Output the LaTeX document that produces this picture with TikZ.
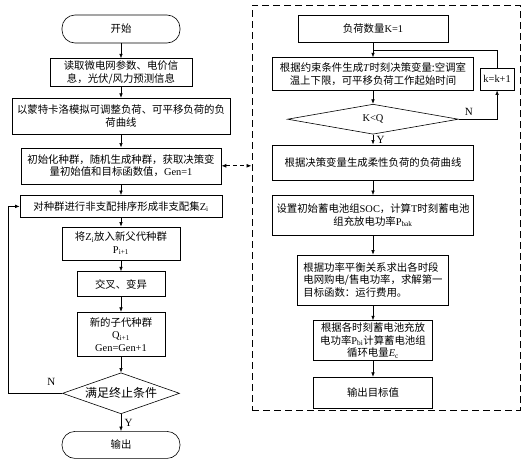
\documentclass[tikz,border=0pt]{standalone}
\usepackage{fontspec}
\setmainfont{Liberation Serif}
\newfontfamily\cjk{Noto Sans CJK SC}
\newcommand{\latn}[1]{{\rmfamily #1}}
\usetikzlibrary{shapes.geometric, arrows.meta, positioning, calc}

\begin{document}
\begin{tikzpicture}[
    x=1pt, y=1pt,
    box/.style={draw, line width=0.6pt, inner sep=2pt, font=\cjk\fontsize{10.4}{12.5}\selectfont, align=center},
    term/.style={box, rounded corners=13pt, minimum width=118pt, minimum height=28pt},
    decision/.style={box, diamond, inner sep=0pt},
    arr/.style={-{Latex[length=4.5pt, width=3.5pt]}, line width=0.6pt},
    darr/.style={{Latex[length=5pt, width=4pt]}-{Latex[length=5pt, width=4pt]}, dash pattern=on 4pt off 3pt, line width=0.9pt},
    frame/.style={draw, dash pattern=on 7pt off 4pt, line width=1pt},
    lbl/.style={font=\fontsize{11}{13}\selectfont},
]
\useasboundingbox (0,0) rectangle (526,-458);

\node[term] (start) at (121,-29) {开始};
\node[box, minimum width=142pt, minimum height=28pt, below=15pt of start] (read) {读取微电网参数、电价信\\息，光伏/风力预测信息};
\node[box, minimum width=218pt, minimum height=36pt, below=11pt of read] (mc) {以蒙特卡洛模拟可调整负荷、可平移负荷的负\\荷曲线};
\node[box, minimum width=200pt, minimum height=36pt, below=13pt of mc] (init) {初始化种群，随机生成种群，获取决策变\\量初始值和目标函数值，\latn{Gen=1}};
\node[box, minimum width=202pt, minimum height=22pt, below=11pt of init] (sort) {对种群进行非支配排序形成非支配集\latn{Z\textsubscript{i}}};
\node[box, minimum width=118pt, minimum height=33pt, below=9pt of sort] (parent) {将\latn{Z\textsubscript{i}}放入新父代种群\\\latn{P\textsubscript{i+1}}};
\node[box, minimum width=88pt, minimum height=25pt, below=11pt of parent] (cross) {交叉、变异};
\node[box, minimum width=88pt, minimum height=44pt, below=15pt of cross] (child) {新的子代种群\\\latn{Q\textsubscript{i+1}}\\\latn{Gen=Gen+1}};
\node[decision, minimum width=117pt, minimum height=41pt, shape aspect=2.85, font=\cjk\fontsize{12}{14}\selectfont, below=16pt of child] (stop) {满足终止条件};
\node[term, minimum height=27pt, below=17pt of stop] (out) {输出};
\coordinate (lp) at (8,0);

\node[frame, minimum width=268pt, minimum height=405pt] (panel) at (386,-207.5) {};
\node[box, minimum width=150pt, minimum height=27pt] (count) at (373,-28.5) {负荷数量\latn{K=1}};
\node[box, minimum width=201pt, minimum height=33pt, below=15pt of count] (gen) {根据约束条件生成\latn{\textit{T}}时刻决策变量:空调室\\温上下限，可平移负荷工作起始时间};
\node[box, minimum width=34pt, minimum height=22pt, inner sep=1pt, right=6pt of gen, yshift=-5pt] (inc) {\latn{k=k+1}};
\node[decision, minimum width=171pt, minimum height=30pt, shape aspect=5.7, below=13pt of gen] (less) {\latn{K<Q}};
\node[box, minimum width=201pt, minimum height=35pt, below=10pt of less] (curve) {根据决策变量生成柔性负荷的负荷曲线};
\node[box, minimum width=201pt, minimum height=40pt, below=15pt of curve] (soc) {设置初始蓄电池组\latn{SOC}，计算\latn{T}时刻蓄电池\\组充放电功率\latn{P\textsubscript{bak}}};
\node[box, minimum width=151pt, minimum height=50pt, align=left, below=19pt of soc] (cost) {根据功率平衡关系求出各时段\\电网购电/售电功率，求解第一\\目标函数：运行费用。};
\node[box, minimum width=119pt, minimum height=40pt, below=15pt of cost] (cycle) {根据各时刻蓄电池充放\\电功率\latn{P\textsubscript{bi}}计算蓄电池组\\循环电量\latn{\textit{E}\textsubscript{c}}};
\node[box, minimum width=119pt, minimum height=31pt, below=16pt of cycle] (result) {输出目标值};
\coordinate (jn) at ($(count.south)!0.55!(gen.north)$);

\draw[arr] (start) -- (read);
\draw[arr] (read) -- (mc);
\draw[arr] (mc) -- (init);
\draw[arr] (init) -- (sort);
\draw[arr] (sort) -- (parent);
\draw[arr] (parent) -- (cross);
\draw[arr] (cross) -- (child);
\draw[arr] (child) -- (stop);
\draw[arr] (stop) -- node[right, lbl] {Y} (out);
\draw[arr] (stop.west) -| node[pos=0.1, above=4pt, lbl] {N} (lp |- sort.west) -- (sort.west);
\draw[darr] (init.east) -- (init.east -| panel.west);

\draw[arr] (count) -- (gen);
\draw[line width=0.6pt] (inc.north) |- (jn);
\draw[arr] (gen) -- (less);
\draw[arr] (less.east) -| node[pos=0.13, above, lbl] {N} (inc.south);
\draw[arr] (less) -- node[right, lbl] {Y} (curve);
\draw[arr] (curve) -- (soc);
\draw[arr] (soc) -- (cost);
\draw[arr] (cost) -- (cycle);
\draw[arr] (cycle) -- (result);

\end{tikzpicture}
\end{document}
